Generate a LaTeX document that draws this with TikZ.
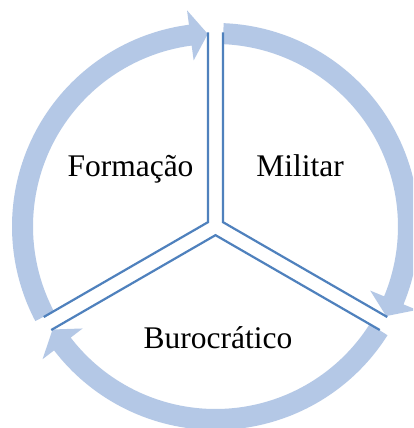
\documentclass[tikz,border=0pt]{standalone}
\usepackage{fontspec}
\setmainfont{Liberation Serif}
\usetikzlibrary{calc}
\definecolor{ringblue}{HTML}{B4C8E6}
\definecolor{lineblue}{HTML}{4F81BD}
\tikzset{
  ringarrow/.style={fill=ringblue, draw=none},
  divider/.style={draw=lineblue, line width=2.2pt, line join=miter},
  label/.style={anchor=base, inner sep=0pt, font=\fontsize{31.5}{36}\selectfont}
}
\newcommand{\ringarc}[1]{%
  \pgfmathsetmacro{\sa}{#1-2.3}%
  \pgfmathsetmacro{\ba}{#1-112.5}%
  \pgfmathsetmacro{\ta}{#1-117.7}%
  \fill[ringarrow] (\sa:203.5) arc[start angle=\sa, end angle=\ba, radius=203.5]
    -- (\ba:218) -- (\ta:192.75) -- (\ba:167.5) -- (\ba:182.5)
    arc[start angle=\ba, end angle=\sa, radius=182.5] -- cycle;
}
\begin{document}
\begin{tikzpicture}[x=1pt,y=1pt]
  \clip (-215.5,-201.5) rectangle (197.5,226.5);
  \fill[white] (-215.5,-201.5) rectangle (197.5,226.5);
  % ring arrows
  \ringarc{90}
  \ringarc{-30}
  \ringarc{210}
  % divider points
  \coordinate (vl) at ($(90:194)+(180:7.5)$);
  \coordinate (vr) at ($(90:194)+(0:7.5)$);
  \coordinate (ul) at (150:8.66);
  \coordinate (ur) at (30:8.66);
  \coordinate (bc) at (270:8.66);
  \coordinate (llu) at ($(210:194)+(120:7.5)$);
  \coordinate (lll) at ($(210:194)+(300:7.5)$);
  \coordinate (lru) at ($(330:194)+(60:7.5)$);
  \coordinate (lrl) at ($(330:194)+(240:7.5)$);
  \draw[divider] (vl) -- (ul) -- (llu);
  \draw[divider] (vr) -- (ur) -- (lru);
  \draw[divider] (lll) -- (bc) -- (lrl);
  % labels
  \node[label] (formacao) at (-85,49.5) {Formação};
  \node[label] (militar) at (84.5,49.5) {Militar};
  \node[label] (burocratico) at (2.5,-121.5) {Burocrático};
\end{tikzpicture}
\end{document}
